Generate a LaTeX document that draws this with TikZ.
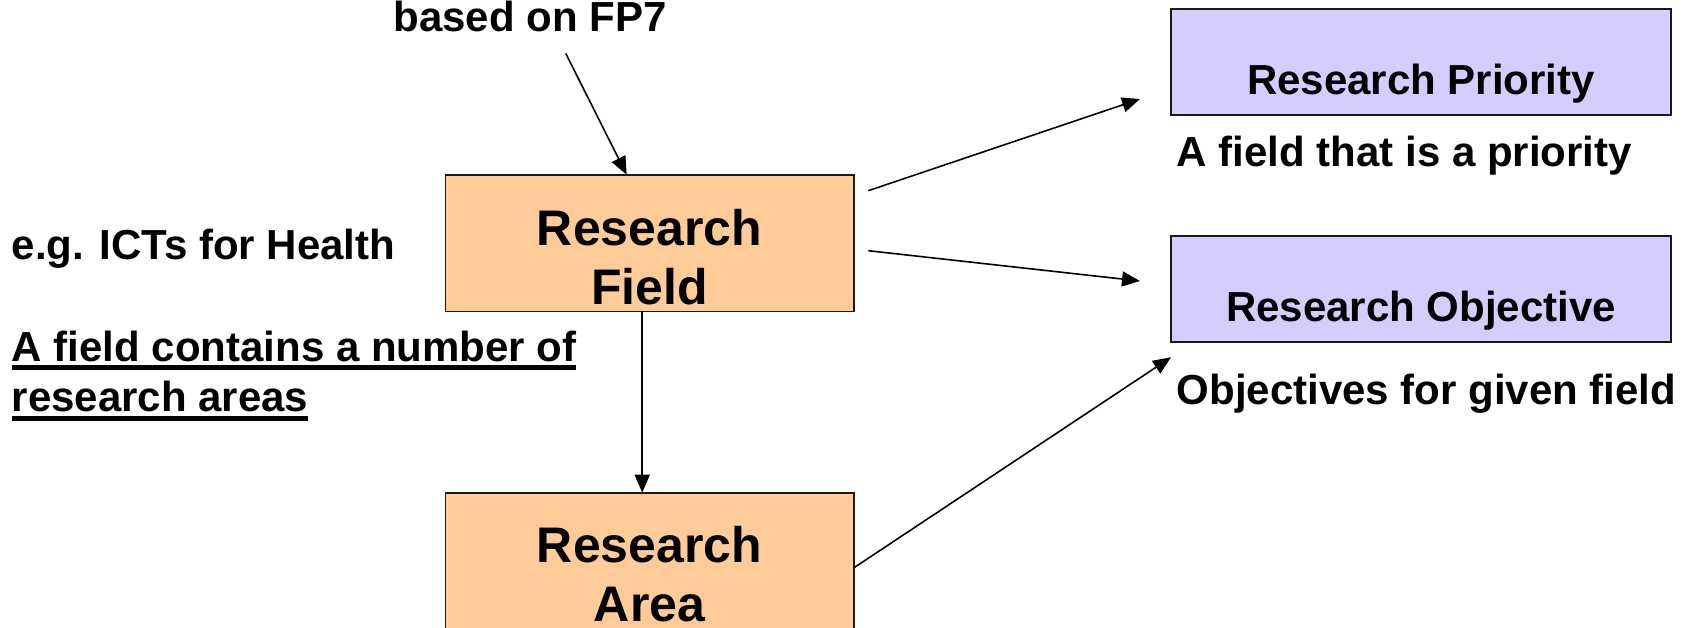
\documentclass[tikz,border=0pt]{standalone}
\usepackage{fontspec}
\setmainfont{Liberation Sans}
\usetikzlibrary{arrows.meta}
\definecolor{peach}{RGB}{255,204,153}
\definecolor{lav}{RGB}{214,205,255}
\definecolor{edge}{RGB}{25,25,25}
\newcommand\myul[1]{\setbox0\hbox{#1}\rlap{\rule[-9pt]{\wd0}{5pt}}\box0}
\tikzset{
  box/.style={draw=edge, line width=1.6pt, inner sep=0pt, outer sep=0pt},
  fieldbox/.style={box, fill=peach, minimum width=408.7pt, minimum height=136.6pt},
  areabox/.style={box, fill=peach, minimum width=408.7pt, minimum height=140pt},
  purplebox/.style={box, fill=lav, minimum width=499.7pt, minimum height=106pt},
  txt/.style={font=\fontsize{42}{50.7}\selectfont\bfseries, inner sep=0pt, outer sep=0pt},
  bigtxt/.style={font=\fontsize{50}{59}\selectfont\bfseries, inner sep=0pt, outer sep=0pt, align=center},
  arr/.style={line width=1.6pt, -{Triangle[length=18pt,width=15pt]}}
}
\begin{document}
\begin{tikzpicture}[x=1pt,y=-1pt]
\useasboundingbox (0,0) rectangle (1691,627);
\clip (0,0) rectangle (1691,627);
% boxes
\node[fieldbox] (field) at (649.65,243) {};
\node[areabox] (area) at (649.65,562.7) {};
\node[purplebox] (prio) at (1420.85,62) {};
\node[purplebox] (obj) at (1420.85,288.7) {};
% box texts (base anchor = last line's baseline)
\node[bigtxt, anchor=base, text depth=0pt] (fieldtxt) at (649.5,304) {Research\\Field};
\node[bigtxt, anchor=base, text depth=0pt] (areatxt) at (649.5,621.7) {Research\\Area};
\node[txt, anchor=base] (priotxt) at (1421,94.3) {Research Priority};
\node[txt, anchor=base] (objtxt) at (1421,321.7) {Research Objective};
% free texts
\node[txt, anchor=base] (fp7) at (530,31.5) {based on FP7};
\node[txt, anchor=base west] (eg) at (11.7,259.3) {e.g. ICTs for Health};
\node[txt, anchor=base west, align=left] (contains) at (11.7,411.7) {\myul{A field contains a number of}\\\myul{research areas}};
\node[txt, anchor=base west] (priodesc) at (1176.7,166.5) {A field that is a priority};
\node[txt, anchor=base west] (objdesc) at (1176.7,404.5) {Objectives for given field};
% connectors
\coordinate (fp7tail) at (565.7,53.3);
\draw[arr] (fp7tail) -- ([xshift=-23pt]field.north);
\draw[arr] ([xshift=-7.4pt]field.south) -- ([xshift=-7.4pt]area.north);
\draw[arr] ([xshift=14.3pt,yshift=52.3pt]field.east) -- ([xshift=-31pt,yshift=-37pt]prio.west);
\draw[arr] ([xshift=14.3pt,yshift=-7.7pt]field.east) -- ([xshift=-31pt,yshift=7.7pt]obj.west);
\draw[arr] ([yshift=-5pt]area.east) -- ([yshift=-15.6pt]obj.south west);
\end{tikzpicture}
\end{document}
